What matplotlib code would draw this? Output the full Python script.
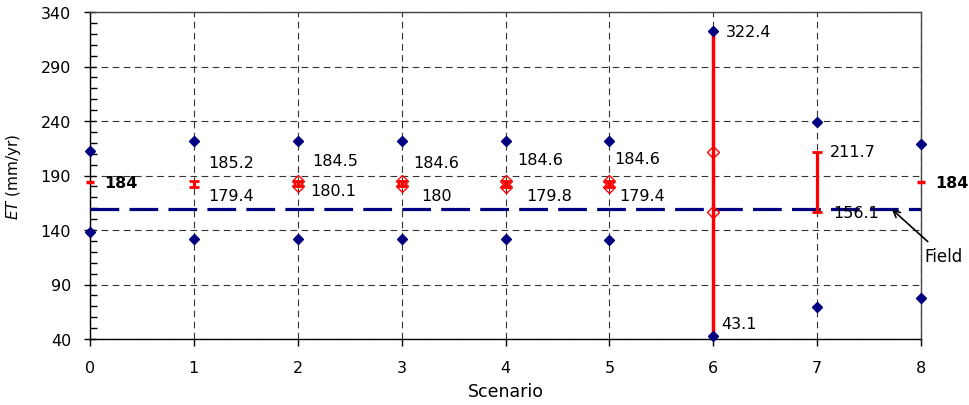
import numpy as np
import matplotlib
matplotlib.use('Agg')
import matplotlib.pyplot as plt
from matplotlib.ticker import MultipleLocator, FixedLocator

plt.rcParams['font.family'] = ['DejaVu Sans']

# Du lieu doc tu hinh
scenarios = [0, 1, 2, 3, 4, 5, 6, 7, 8]
et_max = [212.7, 221.5, 221.5, 221.5, 221.5, 221.5, 322.4, 239.0, 218.7]
et_min = [138.5, 131.8, 131.8, 131.8, 131.8, 131.0, 43.1, 69.6, 77.5]
sim_hi = [184, 185.2, 184.5, 184.6, 184.6, 184.6, 211.7, 211.7, 184]
sim_lo = [184, 179.4, 180.1, 180.0, 179.8, 179.4, 156.1, 156.1, 184]
field_et = 159
y_ticks = [40, 90, 140, 190, 240, 290, 340]

# vi tri nhan (offset pixel so voi diem)
off_hi = [(14, 0), (14, 18), (15, 21), (12, 19), (12, 22), (5, 23), None, (13, 0), (14, 0)]
off_lo = [None, (14, -8), (12, -4), (20, -9), (21, -9), (10, -8), None, (16, 0), None]

red = '#FF0000'
navy = '#000080'
fs = 11.5

fig = plt.figure(figsize=(9.69, 4.06), dpi=100)
ax = fig.add_axes([90 / 969, 1 - 340 / 406, (921 - 90) / 969, (340 - 13) / 406])

x = np.array(scenarios)
hi = np.array(sim_hi)
lo = np.array(sim_lo)

# duong Field
ax.axhline(field_et, color=navy, lw=2.3, dashes=(9, 3.2), zorder=3)

# thanh sai so mau do (kich ban 1-5 va 7)
idx_bar = [1, 2, 3, 4, 5, 7]
ax.errorbar(x[idx_bar], (hi[idx_bar] + lo[idx_bar]) / 2,
            yerr=(hi[idx_bar] - lo[idx_bar]) / 2, fmt='none',
            ecolor=red, elinewidth=2.3, capsize=3.5, capthick=2, zorder=4)
# kich ban 6: khoang min-max
ax.plot([x[6], x[6]], [et_min[6], et_max[6]], color=red, lw=2.5, zorder=4)
# hinh thoi rong (kich ban 2-6)
idx_d = [2, 3, 4, 5, 6]
ax.plot(x[idx_d], hi[idx_d], 'D', ms=6, mfc='none', mec=red, mew=1, zorder=5)
ax.plot(x[idx_d], lo[idx_d], 'D', ms=6, mfc='none', mec=red, mew=1, zorder=5)
# gach ngang o kich ban 0 va 8
ax.plot(x[[0, 8]], hi[[0, 8]], '_', ms=6, mec=red, mew=2.5, zorder=5, clip_on=False)

# diem min/max mau xanh
ax.plot(x, et_max, 'D', ms=5, color=navy, zorder=6, clip_on=False)
ax.plot(x, et_min, 'D', ms=5, color=navy, zorder=6, clip_on=False)

# nhan gia tri
for i in scenarios:
    if off_hi[i] is not None:
        w = 'bold' if i in (0, 8) else 'normal'
        ax.annotate(f'{sim_hi[i]:g}', (i, sim_hi[i]), xytext=off_hi[i],
                    textcoords='offset pixels', ha='left', va='center',
                    fontsize=fs, fontweight=w, annotation_clip=False, zorder=7)
    if off_lo[i] is not None:
        ax.annotate(f'{sim_lo[i]:g}', (i, sim_lo[i]), xytext=off_lo[i],
                    textcoords='offset pixels', ha='left', va='center',
                    fontsize=fs, annotation_clip=False, zorder=7)
ax.annotate(f'{et_max[6]:g}', (6, et_max[6]), xytext=(13, 0), textcoords='offset pixels',
            ha='left', va='center', fontsize=fs)
ax.annotate(f'{et_min[6]:g}', (6, et_min[6]), xytext=(8, 12), textcoords='offset pixels',
            ha='left', va='center', fontsize=fs)

ax.annotate('Field', xy=(7.72, field_et), xytext=(8.22, 116), ha='center', va='center',
            fontsize=12, annotation_clip=False,
            arrowprops=dict(arrowstyle='->', color='black', lw=1.2,
                            shrinkA=3, shrinkB=0))

ax.set_xlim(0, 8)
ax.set_ylim(40, 340)
ax.set_xticks(scenarios)
ax.yaxis.set_major_locator(FixedLocator(y_ticks))
ax.yaxis.set_minor_locator(MultipleLocator(10))
ax.tick_params(axis='y', which='major', direction='inout', length=9, width=1, pad=9, labelsize=fs)
ax.tick_params(axis='y', which='minor', direction='in', length=5, width=1)
ax.tick_params(axis='x', which='major', direction='out', length=5, width=1, pad=10, labelsize=fs)

ax.grid(True, which='major', color='#333333', lw=0.8, linestyle=(0, (6, 4)))
for s in ['left', 'bottom']:
    ax.spines[s].set_color('black')
    ax.spines[s].set_linewidth(1)
for s in ['top', 'right']:
    ax.spines[s].set_color('#444444')
    ax.spines[s].set_linewidth(1)

ax.set_xlabel('Scenario', fontsize=12.5, labelpad=5)
ax.set_ylabel(r'$\mathit{ET}$ (mm/yr)', fontsize=11)
ax.yaxis.set_label_coords(-0.081, 0.5)

fig.savefig('out.png', dpi=100, facecolor='white')
